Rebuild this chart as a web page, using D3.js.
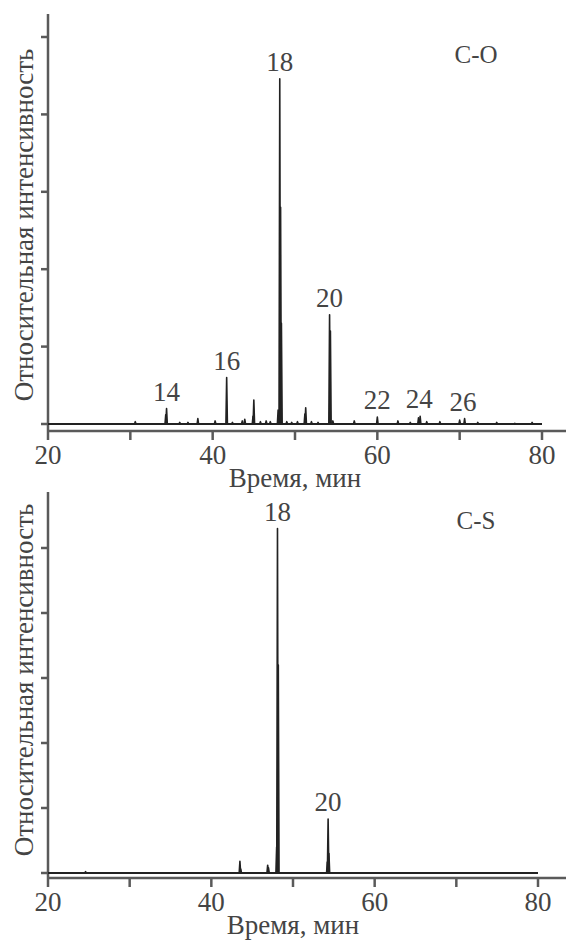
<!DOCTYPE html>
<html>
<head>
<meta charset="utf-8">
<script src="https://cdn.jsdelivr.net/npm/d3@7"></script>
<style>
  body { margin: 0; background: #fff; }
  svg { display: block; }
</style>
</head>
<body>
<div id="chart"></div>
<script>
// chromatograms: peaks as [time, relative height]
var timeTicks = [20, 30, 40, 50, 60, 70, 80];
var timeLabels = [20, 40, 60, 80];
var yTicks = [0, 1, 2, 3, 4, 5];

var peaksCO = [
  [30.6, 0.03], [34.3, 0.12], [34.4, 0.20], [36.0, 0.02], [37.0, 0.02],
  [38.2, 0.07], [40.3, 0.04], [41.7, 0.60], [42.4, 0.02], [43.6, 0.04],
  [43.9, 0.06], [44.9, 0.10], [45.0, 0.31], [45.8, 0.03], [46.5, 0.04],
  [47.0, 0.03], [47.95, 0.18], [48.15, 4.46], [48.25, 2.8], [48.35, 1.3],
  [49.0, 0.03], [49.6, 0.02], [50.3, 0.03], [51.2, 0.13], [51.3, 0.21],
  [52.0, 0.03], [52.8, 0.02], [54.2, 1.41], [54.3, 1.2], [54.6, 0.04],
  [57.2, 0.04], [60.0, 0.09], [62.5, 0.04], [64.0, 0.02], [65.0, 0.08],
  [65.2, 0.10], [66.0, 0.03], [67.6, 0.03], [70.0, 0.05], [70.6, 0.07],
  [72.2, 0.02], [74.5, 0.02], [76.7, 0.01], [78.8, 0.02]
];
var labelsCO = [
  [34.4, 0.20, "14"], [41.7, 0.60, "16"], [48.15, 4.46, "18"], [54.2, 1.41, "20"],
  [60.0, 0.09, "22"], [65.1, 0.10, "24"], [70.4, 0.07, "26"]
];

var peaksCS = [
  [24.6, 0.02], [43.5, 0.18], [43.6, 0.06], [46.9, 0.12], [47.0, 0.08],
  [48.0, 0.40], [48.1, 5.3], [48.2, 3.2], [54.2, 0.17], [54.3, 0.83], [54.4, 0.30]
];
var labelsCS = [
  [48.1, 5.3, "18"], [54.3, 0.83, "20"]
];

var W = 566, H = 941;
var FONT = "'Liberation Serif'";
var svg = d3.select("#chart").append("svg")
    .attr("width", W).attr("height", H);

function label(g, size) {
  return g.append("text")
    .attr("font-family", FONT)
    .attr("font-size", size)
    .attr("fill", "#444");
}

function drawPanel(o) {
  var x = d3.scaleLinear().domain([20, 80]).range([48, o.xEnd]);
  var y = d3.scaleLinear().domain([0, 5]).range([o.y0, o.y5]);
  var g = svg.append("g");

  // y axis: line and left ticks, no labels
  g.append("line")
    .attr("x1", 48).attr("x2", 48)
    .attr("y1", o.yTop).attr("y2", o.axisY)
    .attr("stroke", "#5a5a5a").attr("stroke-width", 2.5);
  g.selectAll(".yt").data(yTicks).enter().append("line")
    .attr("x1", 41).attr("x2", 48)
    .attr("y1", function(d){ return y(d); }).attr("y2", function(d){ return y(d); })
    .attr("stroke", "#5a5a5a").attr("stroke-width", 2.5);

  // x axis sits a little below the baseline
  g.append("line")
    .attr("x1", 47).attr("x2", W)
    .attr("y1", o.axisY).attr("y2", o.axisY)
    .attr("stroke", "#5a5a5a").attr("stroke-width", 2.5);
  g.selectAll(".xt").data(timeTicks).enter().append("line")
    .attr("x1", function(d){ return x(d); }).attr("x2", function(d){ return x(d); })
    .attr("y1", o.axisY).attr("y2", o.axisY + 9)
    .attr("stroke", "#5a5a5a").attr("stroke-width", 2.5);
  timeLabels.forEach(function(d){
    label(g, 27).attr("x", x(d)).attr("y", o.axisY + 33)
      .attr("text-anchor", "middle").text(d);
  });

  // 26px drops the Cyrillic to a sans fallback here, so keep 27px
  label(g, 27)
    .attr("x", (48 + o.xEnd) / 2).attr("y", o.axisY + 56)
    .attr("text-anchor", "middle")
    .text("Время, мин");

  label(g, 27)
    .attr("transform", "translate(33," + o.labelMid + ") rotate(-90)")
    .attr("text-anchor", "middle")
    .text("Относительная интенсивность");

  // baseline trace
  g.append("line")
    .attr("x1", x(20)).attr("x2", x(80))
    .attr("y1", y(0)).attr("y2", y(0))
    .attr("stroke", "#222").attr("stroke-width", 2);

  // peaks
  var hw = 0.09;
  g.selectAll(".pk").data(o.peaks).enter().append("path")
    .attr("d", function(d){
      return "M" + x(d[0] - hw) + "," + y(0) +
             "L" + x(d[0]) + "," + y(d[1]) +
             "L" + x(d[0] + hw) + "," + y(0);
    })
    .attr("fill", "#222").attr("stroke", "#222")
    .attr("stroke-width", 1.6).attr("stroke-linejoin", "round");

  o.labels.forEach(function(d){
    label(g, 27).attr("x", x(d[0])).attr("y", y(d[1]) - 8)
      .attr("text-anchor", "middle").text(d[2]);
  });

  label(g, 25)
    .attr("x", 476).attr("y", o.nameY)
    .attr("text-anchor", "middle")
    .text(o.name);
}

drawPanel({
  peaks: peaksCO, labels: labelsCO, name: "C-O",
  xEnd: 542, y0: 424, y5: 37, yTop: 14, axisY: 431, labelMid: 225, nameY: 63
});
drawPanel({
  peaks: peaksCS, labels: labelsCS, name: "C-S",
  xEnd: 538, y0: 873, y5: 548, yTop: 492, axisY: 878, labelMid: 680, nameY: 529
});
</script>
</body>
</html>
